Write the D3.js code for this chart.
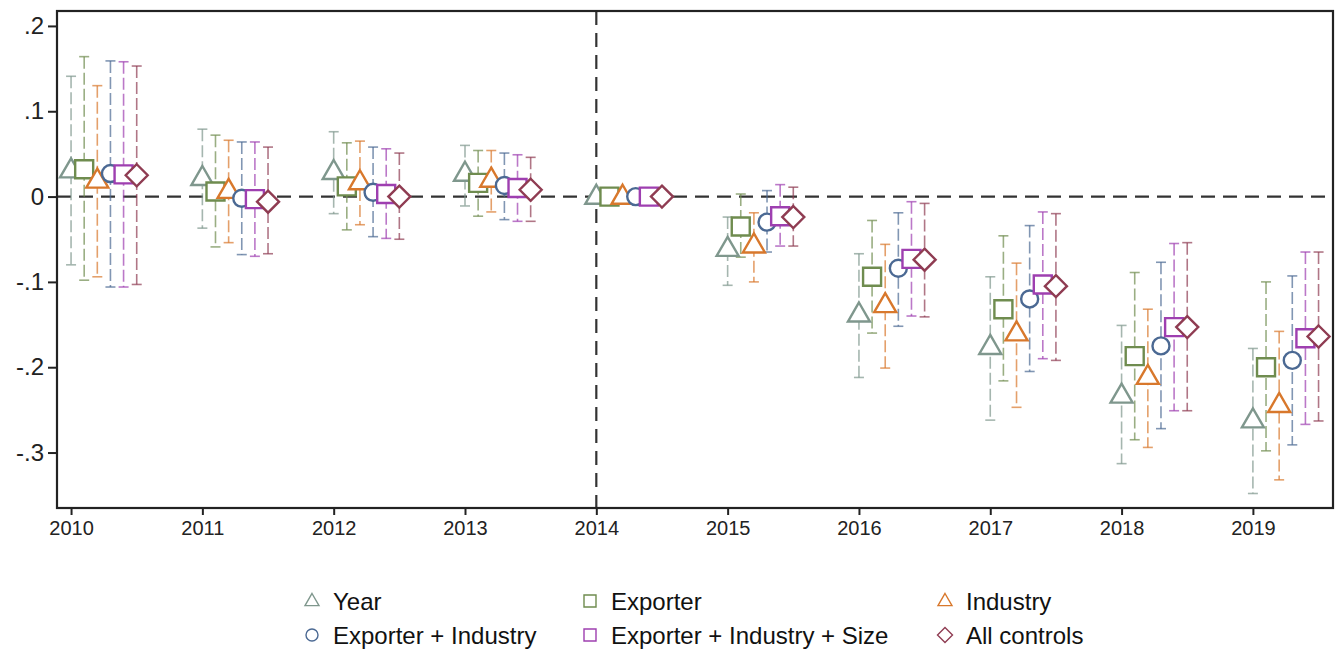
<!DOCTYPE html>
<html><head><meta charset="utf-8">
<script src="https://cdn.jsdelivr.net/npm/d3@7"></script>
<style>
body{margin:0;background:#fff;}
svg{display:block;font-family:"Liberation Sans",Arial,sans-serif;}
</style></head>
<body><svg id="chart" width="1338" height="652"></svg>
<script>
const years = [2010,2011,2012,2013,2014,2015,2016,2017,2018,2019];
const seriesNames = ["Year","Exporter","Industry","Exporter + Industry","Exporter + Industry + Size","All controls"];
const seriesColors = ["#7f978d","#6f8c4f","#d8782c","#4b6993","#9e3fb0","#8f3c52"];
const seriesShapes = ["triangle","square","triangle","circle","square","diamond"];
const yTicks = [0.2,0.1,0,-0.1,-0.2,-0.3];
const yTickLabels = [".2",".1","0","-.1","-.2","-.3"];

const estYear  = [0.031,0.022,0.029,0.027,0,-0.061,-0.138,-0.176,-0.233,-0.262];
const loYear   = [-0.080,-0.037,-0.020,-0.011,0,-0.104,-0.212,-0.262,-0.313,-0.348];
const hiYear   = [0.141,0.079,0.076,0.060,0,-0.024,-0.067,-0.094,-0.151,-0.178];

const estExp   = [0.032,0.006,0.012,0.016,0,-0.035,-0.094,-0.132,-0.187,-0.200];
const loExp    = [-0.098,-0.059,-0.039,-0.023,0,-0.071,-0.160,-0.216,-0.285,-0.298];
const hiExp    = [0.164,0.072,0.063,0.054,0,0.003,-0.028,-0.046,-0.089,-0.100];

const estInd   = [0.019,0.007,0.017,0.020,0,-0.057,-0.127,-0.160,-0.211,-0.244];
const loInd    = [-0.094,-0.054,-0.033,-0.018,0,-0.100,-0.201,-0.247,-0.294,-0.332];
const hiInd    = [0.130,0.066,0.065,0.054,0,-0.019,-0.056,-0.078,-0.132,-0.158];

const estEI    = [0.027,-0.002,0.005,0.013,0,-0.030,-0.084,-0.120,-0.175,-0.192];
const loEI     = [-0.106,-0.068,-0.047,-0.027,0,-0.065,-0.152,-0.205,-0.272,-0.291];
const hiEI     = [0.159,0.064,0.058,0.051,0,0.007,-0.019,-0.034,-0.077,-0.093];

const estEIS   = [0.026,-0.003,0.003,0.010,0,-0.023,-0.073,-0.103,-0.153,-0.166];
const loEIS    = [-0.106,-0.070,-0.049,-0.029,0,-0.058,-0.140,-0.190,-0.251,-0.267];
const hiEIS    = [0.158,0.064,0.056,0.049,0,0.014,-0.006,-0.018,-0.055,-0.065];

const estAll   = [0.025,-0.006,0.000,0.008,0,-0.024,-0.074,-0.105,-0.153,-0.164];
const loAll    = [-0.103,-0.067,-0.050,-0.029,0,-0.058,-0.141,-0.192,-0.251,-0.263];
const hiAll    = [0.153,0.058,0.051,0.046,0,0.011,-0.008,-0.020,-0.054,-0.065];

const estimates = [estYear,estExp,estInd,estEI,estEIS,estAll];
const lowers = [loYear,loExp,loInd,loEI,loEIS,loAll];
const uppers = [hiYear,hiExp,hiInd,hiEI,hiEIS,hiAll];
const offsetStep = 0.1;

const svg = d3.select("#chart");
const x = d3.scaleLinear().domain([2009.893, 2019.61]).range([57, 1333]);
const y = d3.scaleLinear().domain([-0.365, 0.2175]).range([508, 11]);
const [x0,x1] = x.range(), [y0,y1] = y.range();

// reference lines
svg.append("line").attr("x1",x0).attr("x2",x1).attr("y1",y(0)).attr("y2",y(0))
  .attr("stroke","#333").attr("stroke-width",2.2).attr("stroke-dasharray","14,8");
svg.append("line").attr("x1",x(2014)).attr("x2",x(2014)).attr("y1",y1).attr("y2",y0)
  .attr("stroke","#333").attr("stroke-width",2.2).attr("stroke-dasharray","14,8");

// axes
const yAxis = d3.axisLeft(y).tickValues(yTicks).tickFormat((d,i)=>yTickLabels[i]).tickSize(9).tickPadding(4);
const gy = svg.append("g").attr("transform",`translate(${x0},0)`).call(yAxis);
gy.select(".domain").remove();
gy.selectAll(".tick line").attr("stroke","#222").attr("stroke-width",2);
gy.selectAll("text").style("font-size","24px").attr("fill","#222");

const xAxis = d3.axisBottom(x).tickValues(years).tickFormat(d3.format("d")).tickSize(7).tickPadding(6);
const gx = svg.append("g").attr("transform",`translate(0,${y0})`).call(xAxis);
gx.select(".domain").remove();
gx.selectAll(".tick line").attr("stroke","#222").attr("stroke-width",2);
gx.selectAll("text").style("font-size","20px").attr("fill","#222");

// frame
svg.append("rect").attr("x",x0).attr("y",y1).attr("width",x1-x0).attr("height",y0-y1)
  .attr("fill","none").attr("stroke","#222").attr("stroke-width",2.2);

function shapePath(shape, s){
  if(shape==="triangle"){ const h=s*0.866; return `M0,${-h*0.62}L${s/2},${h*0.38}L${-s/2},${h*0.38}Z`; }
  if(shape==="square"){ const a=s/2; return `M${-a},${-a}H${a}V${a}H${-a}Z`; }
  if(shape==="diamond"){ const a=s/2; return `M0,${-a}L${a},0L0,${a}L${-a},0Z`; }
  return null;
}
function drawMarker(g, shape, color, size, sw){
  if(shape==="circle"){
    g.append("circle").attr("r",size/2).attr("fill","#fff").attr("stroke",color).attr("stroke-width",sw);
  } else {
    g.append("path").attr("d",shapePath(shape,size)).attr("fill","#fff").attr("stroke",color).attr("stroke-width",sw);
  }
}
const markerSize = {triangle:22, square:18, circle:17, diamond:22};

// error bars
seriesNames.forEach((name,si)=>{
  const g = svg.append("g").attr("stroke",seriesColors[si]).attr("stroke-opacity",0.7).attr("stroke-width",1.6);
  years.forEach((yr,i)=>{
    const lo = lowers[si][i], hi = uppers[si][i];
    if(lo===hi) return;
    const cx = x(yr + si*offsetStep);
    g.append("line").attr("x1",cx).attr("x2",cx).attr("y1",y(hi)).attr("y2",y(lo)).attr("stroke-dasharray","12,4");
    g.append("line").attr("x1",cx-5).attr("x2",cx+5).attr("y1",y(hi)).attr("y2",y(hi));
    g.append("line").attr("x1",cx-5).attr("x2",cx+5).attr("y1",y(lo)).attr("y2",y(lo));
  });
});
// markers
seriesNames.forEach((name,si)=>{
  years.forEach((yr,i)=>{
    const g = svg.append("g").attr("transform",`translate(${x(yr+si*offsetStep)},${y(estimates[si][i])})`);
    drawMarker(g, seriesShapes[si], seriesColors[si], markerSize[seriesShapes[si]], 2.4);
  });
});

// legend
const legCols = [312, 590, 945];
const legRows = [601, 635];
seriesNames.forEach((name,si)=>{
  const col = si%3, row = Math.floor(si/3);
  const g = svg.append("g").attr("transform",`translate(${legCols[col]},${legRows[row]})`);
  const ls = {triangle:14, square:12, circle:12, diamond:15}[seriesShapes[si]];
  drawMarker(g, seriesShapes[si], seriesColors[si], ls, 1.4);
  g.append("text").attr("x",21).attr("y",8.5).style("font-size","24px").attr("fill","#111").text(name);
});
</script></body></html>
